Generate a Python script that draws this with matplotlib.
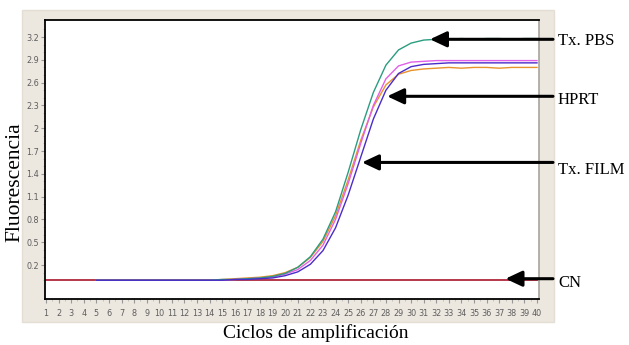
import matplotlib
matplotlib.use("Agg")
import matplotlib.pyplot as plt
from matplotlib.patches import Rectangle

# ---------------- data ----------------
cycles_all = list(range(1, 41))
cycles_amp = list(range(5, 41))

cn = [0.00, 0.00, 0.00, 0.00, 0.00, 0.00, 0.00, 0.00, 0.00, 0.00,
      0.00, 0.00, 0.00, 0.00, 0.00, 0.00, 0.00, 0.00, 0.00, 0.00,
      0.00, 0.00, 0.00, 0.00, 0.00, 0.00, 0.00, 0.00, 0.00, 0.00,
      0.00, 0.00, 0.00, 0.00, 0.00, 0.00, 0.00, 0.00, 0.00, 0.00]

tx_pbs = [0.00, 0.00, 0.00, 0.00, 0.00, 0.00, 0.00, 0.00, 0.00, 0.00,
          0.01, 0.01, 0.02, 0.03, 0.05, 0.09, 0.17, 0.31, 0.54, 0.90,
          1.42, 1.98, 2.47, 2.83, 3.03, 3.12, 3.16, 3.17, 3.17, 3.18,
          3.17, 3.18, 3.18, 3.17, 3.18, 3.18]

orange = [0.00, 0.00, 0.00, 0.00, 0.00, 0.00, 0.00, 0.00, 0.00, 0.00,
          0.01, 0.02, 0.03, 0.04, 0.06, 0.10, 0.17, 0.30, 0.51, 0.85,
          1.32, 1.84, 2.28, 2.57, 2.71, 2.76, 2.78, 2.79, 2.80, 2.79,
          2.80, 2.80, 2.79, 2.80, 2.80, 2.80]

pink = [0.00, 0.00, 0.00, 0.00, 0.00, 0.00, 0.00, 0.00, 0.00, 0.00,
        0.00, 0.01, 0.02, 0.03, 0.04, 0.08, 0.14, 0.26, 0.46, 0.80,
        1.27, 1.80, 2.30, 2.65, 2.82, 2.87, 2.88, 2.89, 2.89, 2.89,
        2.89, 2.89, 2.89, 2.89, 2.89, 2.89]

blue = [0.00, 0.00, 0.00, 0.00, 0.00, 0.00, 0.00, 0.00, 0.00, 0.00,
        0.00, 0.01, 0.01, 0.02, 0.03, 0.06, 0.11, 0.21, 0.39, 0.69,
        1.12, 1.62, 2.12, 2.50, 2.72, 2.81, 2.84, 2.85, 2.86, 2.86,
        2.86, 2.86, 2.86, 2.86, 2.86, 2.86]

ytick_values = [0.2, 0.5, 0.8, 1.1, 1.4, 1.7, 2.0, 2.3, 2.6, 2.9, 3.2]
ytick_labels = ["0.2", "0.5", "0.8", "1.1", "1.4", "1.7", "2", "2.3", "2.6", "2.9", "3.2"]
xtick_labels = [str(c) for c in cycles_all]

# annotations: label, arrow tip (cycle, value), label height (value)
ann_labels = ["Tx. PBS", "HPRT", "Tx. FILM", "CN"]
ann_tips = [(31.5, 3.17), (28.1, 2.42), (26.1, 1.55), (37.5, 0.02)]
ann_text_y = [3.15, 2.37, 1.45, -0.03]

# ---------------- figure ----------------
W, H = 629, 345
fig = plt.figure(figsize=(W / 100, H / 100), dpi=100)
fig.patch.set_facecolor("white")

# beige instrument panel
panel = Rectangle((22 / W, 1 - 322 / H), 532 / W, 312 / H,
                  transform=fig.transFigure, facecolor="#ece7df",
                  edgecolor="#e4ded4", lw=1, zorder=0)
fig.patches.append(panel)

ax = fig.add_axes([45 / W, 1 - 299 / H, 494 / W, 279 / H])
ax.set_zorder(2)
ax.set_facecolor("white")
ax.set_xlim(0.92, 40.16)
ax.set_ylim(-0.247, 3.424)

ax.plot(cycles_all, cn, color="#b0283a", lw=1.3, zorder=2)
ax.plot(cycles_amp, orange, color="#e8922c", lw=1.0, zorder=3)
ax.plot(cycles_amp, pink, color="#e060e8", lw=1.0, zorder=3)
ax.plot(cycles_amp, blue, color="#4a2cc8", lw=1.0, zorder=4)
ax.plot(cycles_amp, tx_pbs, color="#2a9c80", lw=1.0, zorder=3)

for sp in ["top", "left", "bottom"]:
    ax.spines[sp].set_color("black")
    ax.spines[sp].set_linewidth(1.3)
ax.spines["right"].set_color("#a8a49c")
ax.spines["right"].set_linewidth(1.2)

ax.set_xticks(cycles_all)
ax.set_xticklabels(xtick_labels, fontsize=6.5, color="#5e5e5e",
                   family="DejaVu Sans", fontstretch="condensed")
ax.set_yticks(ytick_values)
ax.set_yticklabels(ytick_labels, fontsize=6.5, color="#5e5e5e",
                   family="DejaVu Sans", fontstretch="condensed")
ax.set_xticks([c + 0.5 for c in cycles_all[:-1]], minor=True)
ax.set_yticks([v / 10 for v in range(0, 34)], minor=True)
ax.tick_params(axis="x", which="major", length=3, color="#999999", pad=4)
ax.tick_params(axis="x", which="minor", length=1.5, color="#bbbbbb")
ax.tick_params(axis="y", which="major", length=3, color="#999999", pad=1.5)
ax.tick_params(axis="y", which="minor", length=1.5, color="#bbbbbb")

serif = ["Liberation Serif", "DejaVu Serif"]
fig.text(316 / W, 1 - 333 / H, "Ciclos de amplificación", ha="center", va="center",
         fontsize=14, family=serif)
fig.text(15 / W, 1 - 182 / H, "Fluorescencia", ha="center", va="center",
         rotation=90, fontsize=15.5, family=serif)

for lab, tip, ty in zip(ann_labels, ann_tips, ann_text_y):
    ax.annotate("", xy=tip, xycoords="data",
                xytext=(553 / W, tip[1]), textcoords=("figure fraction", "data"),
                arrowprops=dict(arrowstyle="-|>,head_length=1.0,head_width=0.47",
                                color="black", lw=2.2, mutation_scale=10,
                                shrinkA=0, shrinkB=0),
                annotation_clip=False, zorder=6)
    ax.annotate(lab, xy=(558 / W, ty), xycoords=("figure fraction", "data"),
                ha="left", va="center", fontsize=12, family=serif,
                annotation_clip=False)

fig.savefig("out.png", dpi=100, facecolor=fig.get_facecolor())
